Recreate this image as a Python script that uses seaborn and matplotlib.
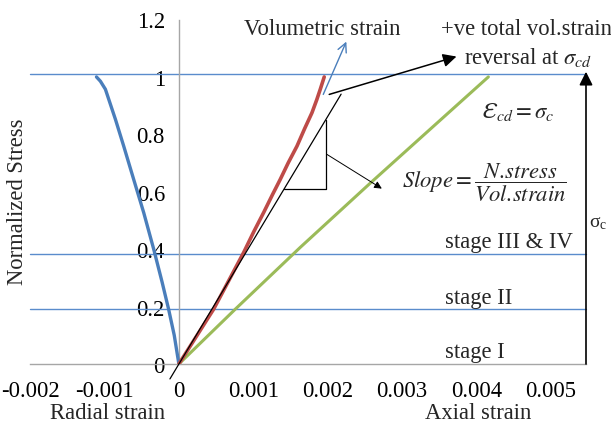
import matplotlib
matplotlib.use("Agg")
import matplotlib.pyplot as plt
import seaborn as sns
import pandas as pd

# Radial strain branch (negative strains)
radial_stress = [0, 0.1, 0.19, 0.285, 0.4, 0.527, 0.643, 0.759, 0.852, 0.957,
                 0.985, 1.0]
radial_strain = [0, -0.000062, -0.000137, -0.000225, -0.000338, -0.000472,
                 -0.000607, -0.000741, -0.000852, -0.000987, -0.001054,
                 -0.001107]

# Volumetric strain curve
vol_stress = [0, 0.1, 0.191, 0.3, 0.388, 0.46, 0.527, 0.59, 0.643, 0.7, 0.759,
              0.82, 0.875, 0.92, 0.957, 1.0]
vol_strain = [0, 0.000245, 0.000467, 0.00069, 0.00087, 0.001005, 0.001138,
              0.001258, 0.001362, 0.001468, 0.001587, 0.00169, 0.001788,
              0.001852, 0.0019, 0.001953]

# Axial strain curve
axial_stress = [0, 0.191, 0.406, 0.632, 0.8, 1.0]
axial_strain = [0, 0.000758, 0.00163, 0.00258, 0.0033, 0.004158]

# Tangent to the volumetric curve and its slope triangle
tangent_strain = [-0.00012, 0.00218]
tangent_stress = [-0.052, 0.94]
triangle_strain = [0.00141, 0.001975, 0.001975]
triangle_stress = [0.608, 0.608, 0.851]

# Stage boundaries (normalized stress)
stage_levels = [0.19, 0.384, 1.01]
stage_names = ["stage I", "stage II", "stage III & IV"]
stage_label_y = [0.045, 0.233, 0.428]

x_ticks = [-0.002, -0.001, 0, 0.001, 0.002, 0.003, 0.004, 0.005]
x_tick_labels = ["-0.002", "-0.001", "0", "0.001", "0.002", "0.003", "0.004", "0.005"]
y_ticks = [0, 0.2, 0.4, 0.6, 0.8, 1.0, 1.2]
y_tick_labels = ["0", "0.2", "0.4", "0.6", "0.8", "1", "1.2"]

sns.set_style("white")
plt.rcParams["font.family"] = ["Liberation Serif", "DejaVu Serif"]
plt.rcParams["mathtext.fontset"] = "stix"

BLUE = "#4a7ebb"
RED = "#be4b48"
GREEN = "#9bbb59"
GREY = "#a6a6a6"
FS = 16.3

fig = plt.figure(figsize=(6.11, 4.27), dpi=100)
ax = fig.add_axes([30 / 611, 62 / 427, 556 / 611, 344.5 / 427])
ax.set_xlim(-0.002, 0.00547)
ax.set_ylim(0, 1.2)

# stage boundary lines
for lvl in stage_levels:
    ax.plot([-0.002, 0.00547], [lvl, lvl], color="#5a8ccc", lw=1.0, clip_on=False, zorder=1)

radial_df = pd.DataFrame({"strain": radial_strain, "stress": radial_stress})
vol_df = pd.DataFrame({"strain": vol_strain, "stress": vol_stress})
axial_df = pd.DataFrame({"strain": axial_strain, "stress": axial_stress})

sns.lineplot(data=radial_df, x="strain", y="stress", sort=False, estimator=None,
             color=BLUE, lw=2.4, ax=ax, zorder=3)
sns.lineplot(data=axial_df, x="strain", y="stress", sort=False, estimator=None,
             color=GREEN, lw=2.2, ax=ax, zorder=3)
sns.lineplot(data=vol_df, x="strain", y="stress", sort=False, estimator=None,
             color=RED, lw=2.6, ax=ax, zorder=3)
for line in ax.lines:
    line.set_solid_joinstyle("round")
    line.set_solid_capstyle("round")

ax.plot(tangent_strain, tangent_stress, color="black", lw=0.9, clip_on=False, zorder=4)
ax.plot(triangle_strain, triangle_stress, color="black", lw=0.9, zorder=4)

# arrows
ax.annotate("", xy=(0.00225, 1.123), xytext=(0.00194, 0.939),
            arrowprops=dict(arrowstyle="->", color=BLUE, lw=1.0, mutation_scale=16,
                            shrinkA=0, shrinkB=0), annotation_clip=False)
ax.annotate("", xy=(0.00373, 1.071), xytext=(0.00202, 0.939),
            arrowprops=dict(arrowstyle="-|>", color="black", lw=1.1, mutation_scale=20,
                            shrinkA=0, shrinkB=0), annotation_clip=False)
ax.annotate("", xy=(0.002727, 0.611), xytext=(0.00199, 0.73),
            arrowprops=dict(arrowstyle="-|>", color="black", lw=0.7, mutation_scale=11,
                            shrinkA=0, shrinkB=0), annotation_clip=False)
ax.annotate("", xy=(0.00547, 1.018), xytext=(0.00547, 0),
            arrowprops=dict(arrowstyle="-|>", color="black", lw=1.2, mutation_scale=20,
                            shrinkA=0, shrinkB=0), annotation_clip=False)

# axes styling: y axis crosses at strain = 0
ax.spines["top"].set_visible(False)
ax.spines["right"].set_visible(False)
ax.spines["left"].set_position(("data", 0))
for s in ("left", "bottom"):
    ax.spines[s].set_color(GREY)
    ax.spines[s].set_linewidth(1.0)
ax.set_xticks(x_ticks)
ax.set_xticklabels(x_tick_labels)
ax.set_yticks(y_ticks)
ax.set_yticklabels(y_tick_labels)
ax.tick_params(axis="both", direction="out", length=5, width=1, color=GREY,
               labelsize=FS, labelcolor="black")
ax.tick_params(axis="x", pad=6.5)
ax.tick_params(axis="y", pad=5)
ax.set_xlabel("")
ax.set_ylabel("")

# axis titles
fig.text(18 / 611, 1 - 202 / 427, "Normalized Stress", rotation=90, ha="center",
         va="center", fontsize=FS)
fig.text(107.5 / 611, 1 - 414 / 427, "Radial strain", ha="center", va="center", fontsize=FS)
fig.text(478 / 611, 1 - 414 / 427, "Axial strain", ha="center", va="center", fontsize=FS)

# annotations
ax.text(0.001926, 1.169, "Volumetric strain", ha="center", va="center", fontsize=FS,
        clip_on=False)
ax.text(0.004664, 1.169, "+ve total vol.strain", ha="center", va="center", fontsize=FS,
        clip_on=False)
ax.text(0.004690, 1.072, r"reversal at $\sigma_{cd}$", ha="center", va="center",
        fontsize=FS, clip_on=False)
ax.text(0.00455, 0.88, r"$Ɛ_{cd}=\sigma_{c}$", ha="center", va="center", fontsize=FS)
ax.text(0.004107, 0.633, r"$Slope=\dfrac{N.\!stress}{Vol.\!strain}$", ha="center",
        va="center", fontsize=FS)
for name, yy in zip(stage_names, stage_label_y):
    ax.text(0.00357, yy, name, ha="left", va="center", fontsize=FS)
ax.text(0.00551, 0.494, r"σ$_{\mathregular{c}}$", ha="left", va="center",
        fontsize=14, clip_on=False)

fig.savefig("out.png", dpi=100)
